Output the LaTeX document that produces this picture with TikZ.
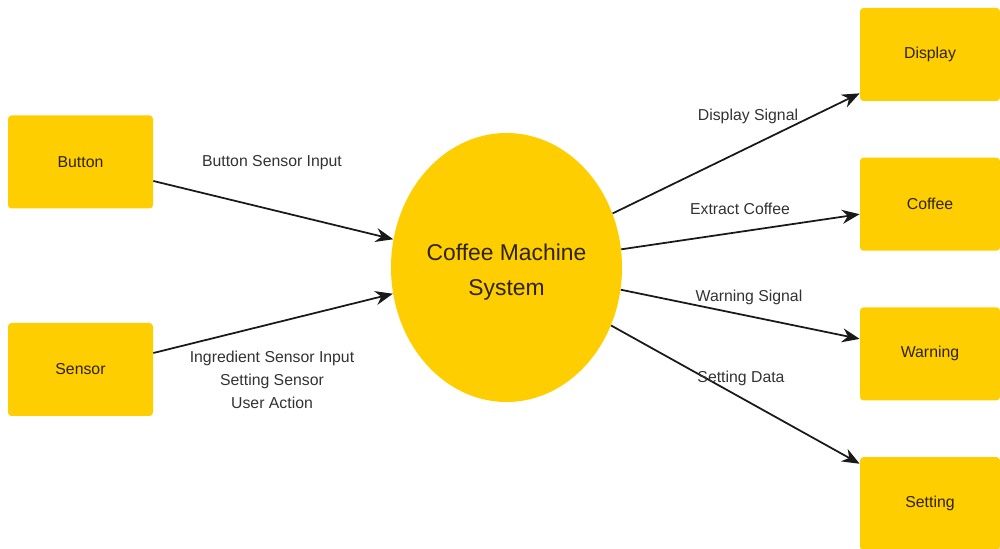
\documentclass[tikz,border=0pt]{standalone}
\usepackage{fontspec}
\setmainfont{Liberation Sans}
\usepackage{xcolor}
\definecolor{coffeeyellow}{RGB}{255, 206, 0}
\definecolor{boxtext}{RGB}{45, 35, 5}
\definecolor{flowtext}{RGB}{50, 50, 50}
\usepackage{tikz}
\usetikzlibrary{shapes.geometric, arrows.meta, positioning}

\begin{document}
\begin{tikzpicture}[
    node distance=1.12cm,
    block/.style={
        rectangle, fill=coffeeyellow, rounded corners=2pt, draw=none,
        minimum height=1.86cm, text=boxtext, font=\fontsize{9}{11}\selectfont
    },
    proc/.style={
        ellipse, fill=coffeeyellow, draw=none, inner sep=0pt,
        minimum width=4.62cm, minimum height=5.38cm, align=center,
        text=boxtext, font=\fontsize{13}{20}\selectfont
    },
    flow/.style={
        -{Stealth[length=10pt, width=8pt]}, line width=1pt, draw=black!90
    },
    flowname/.style={
        font=\fontsize{9}{13}\selectfont, text=flowtext, align=center, inner sep=1pt
    }
]
\useasboundingbox (0,0) rectangle (20,-10.98);

% External entities
\node[block, minimum width=2.9cm] (button) at (1.61,-3.24) {Button};
\node[block, minimum width=2.9cm] (sensor) at (1.61,-7.39) {Sensor};

% Process
\node[proc] (sys) at (10.13,-5.35) {\rule{0pt}{0.5cm}Coffee Machine\\System};

% Outputs
\node[block, minimum width=2.8cm] (display) at (18.6,-1.09) {Display};
\node[block, minimum width=2.8cm, below=of display] (coffee) {Coffee};
\node[block, minimum width=2.8cm, below=of coffee] (warning) {Warning};
\node[block, minimum width=2.8cm, below=of warning] (setting) {Setting};

% Data flows
\draw[flow] ([yshift=-0.38cm]button.east) -- (sys.166.5);
\draw[flow] ([yshift=0.33cm]sensor.east) -- (sys.193.5);
\draw[flow] (sys.27) -- ([yshift=0.16cm]display.south west);
\draw[flow] (sys.9) -- ([yshift=-0.2cm]coffee.west);
\draw[flow] (sys.-11) -- ([yshift=0.3cm]warning.west);
\draw[flow] (sys.-29) -- ([yshift=-0.14cm]setting.north west);

% Flow labels
\node[flowname] (lbutton) at (5.44,-3.26) {Button Sensor Input};
\node[flowname] (lsensor) at (5.44,-7.6) {Ingredient Sensor Input\\Setting Sensor\\User Action};
\node[flowname] (ldisplay) at (14.96,-2.32) {Display Signal};
\node[flowname] (lcoffee) at (14.8,-4.18) {Extract Coffee};
\node[flowname] (lwarning) at (14.98,-5.94) {Warning Signal};
\node[flowname] (lsetting) at (14.82,-7.56) {Setting Data};

\end{tikzpicture}
\end{document}
